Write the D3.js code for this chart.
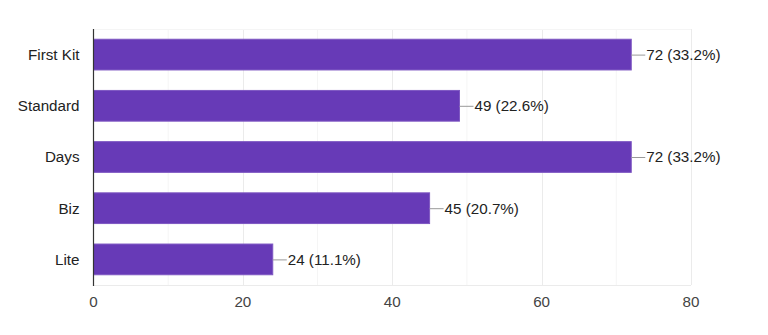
<!DOCTYPE html>
<html><head><meta charset="utf-8">
<script src="https://cdn.jsdelivr.net/npm/d3@7"></script>
<style>body{margin:0;background:#fff;} text{font-family:Arial,"Liberation Sans",sans-serif;}</style>
</head><body>
<svg id="c" width="768" height="335"></svg>
<script>
const categories = ["First Kit","Standard","Days","Biz","Lite"];
const values = [72,49,72,45,24];
const percents = ["33.2%","22.6%","33.2%","20.7%","11.1%"];
const majorTicks = [0,20,40,60,80];
const minorTicks = [10,30,50,70];

const svg = d3.select("#c");
const pLeft = 93.5, pRight = 691, pTop = 29, pBottom = 285;
const fs = 15.2;
const x = d3.scaleLinear().domain([0,80]).range([pLeft,pRight]);
const y = d3.scaleBand().domain(categories).range([pTop,pBottom]).paddingInner(0.4).paddingOuter(0.2);

// gridlines
svg.append("g").selectAll("line").data(minorTicks).join("line")
  .attr("x1",d=>x(d)).attr("x2",d=>x(d)).attr("y1",pTop).attr("y2",pBottom)
  .attr("stroke","#f5f5f5").attr("stroke-width",1);
svg.append("g").selectAll("line").data(majorTicks.slice(1)).join("line")
  .attr("x1",d=>Math.round(x(d))+0.5).attr("x2",d=>Math.round(x(d))+0.5).attr("y1",pTop).attr("y2",pBottom)
  .attr("stroke","#ebebeb").attr("stroke-width",1);
svg.append("line").attr("x1",pLeft).attr("x2",pRight).attr("y1",pBottom+0.5).attr("y2",pBottom+0.5).attr("stroke","#ebebeb");
svg.append("line").attr("x1",pLeft).attr("x2",pRight).attr("y1",pTop+0.5).attr("y2",pTop+0.5).attr("stroke","#f5f5f5");

// bars
svg.append("g").selectAll("rect").data(values).join("rect")
  .attr("x",x(0)).attr("y",(d,i)=>y(categories[i]))
  .attr("width",d=>x(d)-x(0)).attr("height",y.bandwidth())
  .attr("fill","#673ab7").attr("stroke","#7e57c2").attr("stroke-width",1);

// axis line
svg.append("line").attr("x1",pLeft).attr("x2",pLeft).attr("y1",pTop).attr("y2",pBottom+1)
  .attr("stroke","#333").attr("stroke-width",1.2);

// category labels
svg.append("g").selectAll("text").data(categories).join("text")
  .attr("x",pLeft-14).attr("y",d=>y(d)+y.bandwidth()/2).attr("dy","0.35em")
  .attr("text-anchor","end").attr("font-size",fs).attr("fill","#222").text(d=>d);

// tick labels
svg.append("g").selectAll("text").data(majorTicks).join("text")
  .attr("x",d=>x(d)).attr("y",302).attr("dy","0.35em")
  .attr("text-anchor","middle").attr("font-size",fs).attr("fill","#444").text(d=>d);

// value labels with leader lines
const lg = svg.append("g");
values.forEach((v,i)=>{
  const cy = y(categories[i])+y.bandwidth()/2;
  lg.append("line").attr("x1",x(v)).attr("x2",x(v)+14).attr("y1",cy+0.5).attr("y2",cy+0.5)
    .attr("stroke","#999").attr("stroke-width",1);
  lg.append("text").attr("x",x(v)+15).attr("y",cy).attr("dy","0.35em")
    .attr("font-size",fs).attr("fill","#222").text(`${v} (${percents[i]})`);
});
</script>
</body></html>
